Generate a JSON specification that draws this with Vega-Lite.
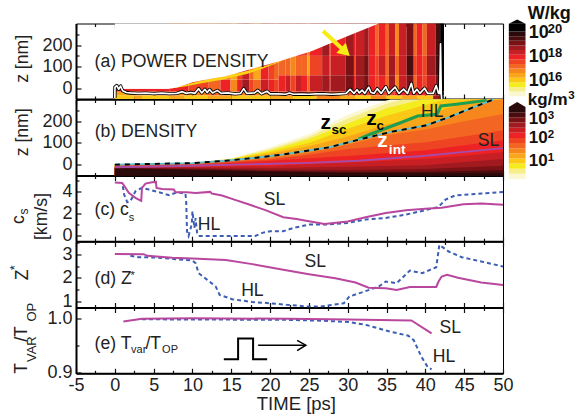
{
"$schema":"https://vega.github.io/schema/vega-lite/v6.json",
"padding":{"left":8,"top":3.5,"right":0,"bottom":0},
"background":"white",
"config":{"view":{"stroke":"#000","strokeWidth":1},"axis":{"grid":false,"labelFont":"Liberation Sans","labelFontSize":18,"labelColor":"#222","tickColor":"#111","tickWidth":1.2,"domainColor":"#000","domainWidth":2,"labelOverlap":false,"labelFlush":false,"zindex":1}},
"datasets":{
"heatA":[
{"t":0,"t2":2.5,"z":-50,"z2":-33,"c":3},{"t":2.5,"t2":3.5,"z":-50,"z2":-33,"c":4},{"t":3.5,"t2":5,"z":-50,"z2":-33,"c":3},{"t":5,"t2":7,"z":-50,"z2":-33,"c":3},{"t":7,"t2":9,"z":-50,"z2":-33,"c":4},{"t":9,"t2":12,"z":-50,"z2":-33,"c":3},{"t":12,"t2":15,"z":-50,"z2":-33,"c":4},{"t":15,"t2":17,"z":-50,"z2":-33,"c":3},{"t":17,"t2":20,"z":-50,"z2":-33,"c":3},{"t":20,"t2":23,"z":-50,"z2":-33,"c":4},{"t":23,"t2":26,"z":-50,"z2":-33,"c":3},{"t":26,"t2":29,"z":-50,"z2":-33,"c":5},{"t":29,"t2":31,"z":-50,"z2":-33,"c":4},{"t":31,"t2":33,"z":-50,"z2":-33,"c":3},{"t":33,"t2":35,"z":-50,"z2":-33,"c":5},{"t":35,"t2":37,"z":-50,"z2":-33,"c":3},{"t":37,"t2":39,"z":-50,"z2":-33,"c":4},{"t":39,"t2":41,"z":-50,"z2":-33,"c":3},{"t":41,"t2":42.4,"z":-50,"z2":-33,"c":10},
{"t":0,"t2":5,"z":-33,"z2":-15,"c":4},{"t":5,"t2":8,"z":-33,"z2":-15,"c":6},{"t":8,"t2":12,"z":-33,"z2":-15,"c":5},{"t":12,"t2":16,"z":-33,"z2":-15,"c":6},{"t":16,"t2":20,"z":-33,"z2":-15,"c":5},{"t":20,"t2":25,"z":-33,"z2":-15,"c":7},{"t":25,"t2":30,"z":-33,"z2":-15,"c":6},{"t":30,"t2":36,"z":-33,"z2":-15,"c":7},{"t":36,"t2":41.3,"z":-33,"z2":-15,"c":8},{"t":41.3,"t2":42.4,"z":-33,"z2":-15,"c":12},
{"t":0,"t2":7,"z":-15,"z2":-3,"c":8},
{"t":7,"t2":9.5,"z":-15,"z2":40,"c":8},{"t":9.5,"t2":12.1,"z":-15,"z2":40,"c":7},{"t":12.1,"t2":13.6,"z":-15,"z2":40,"c":6},{"t":13.6,"t2":14.9,"z":-15,"z2":40,"c":8},{"t":14.9,"t2":15.75,"z":-15,"z2":40,"c":5},{"t":15.75,"t2":16.4,"z":-15,"z2":40,"c":8},{"t":16.4,"t2":17.3,"z":-15,"z2":40,"c":10},{"t":17.3,"t2":17.9,"z":-15,"z2":40,"c":7},{"t":17.9,"t2":18.8,"z":-15,"z2":40,"c":6},{"t":18.8,"t2":19.8,"z":-15,"z2":40,"c":9},{"t":19.8,"t2":20.5,"z":-15,"z2":40,"c":8},{"t":20.5,"t2":21.1,"z":-15,"z2":40,"c":7},
{"t":7,"t2":9.5,"z":40,"z2":300,"c":6},{"t":9.5,"t2":12.1,"z":40,"z2":300,"c":5},{"t":12.1,"t2":13.6,"z":40,"z2":300,"c":5},{"t":13.6,"t2":14.9,"z":40,"z2":300,"c":6},{"t":14.9,"t2":15.75,"z":40,"z2":300,"c":4},{"t":15.75,"t2":16.4,"z":40,"z2":300,"c":7},{"t":16.4,"t2":17.3,"z":40,"z2":300,"c":9},{"t":17.3,"t2":17.9,"z":40,"z2":300,"c":6},{"t":17.9,"t2":18.8,"z":40,"z2":300,"c":4},{"t":18.8,"t2":19.8,"z":40,"z2":300,"c":8},{"t":19.8,"t2":20.5,"z":40,"z2":300,"c":7},{"t":20.5,"t2":21.1,"z":40,"z2":300,"c":6},
{"t":21.1,"t2":22,"z":-15,"z2":60,"c":8},{"t":21.1,"t2":22,"z":60,"z2":150,"c":6},{"t":21.1,"t2":22,"z":150,"z2":300,"c":8},
{"t":22,"t2":22.6,"z":-15,"z2":60,"c":9},{"t":22,"t2":22.6,"z":60,"z2":150,"c":6},{"t":22,"t2":22.6,"z":150,"z2":300,"c":8},
{"t":22.6,"t2":23.3,"z":-15,"z2":60,"c":7},{"t":22.6,"t2":23.3,"z":60,"z2":150,"c":5},{"t":22.6,"t2":23.3,"z":150,"z2":300,"c":7},
{"t":23.3,"t2":24.1,"z":-15,"z2":60,"c":9},{"t":23.3,"t2":24.1,"z":60,"z2":150,"c":6},{"t":23.3,"t2":24.1,"z":150,"z2":300,"c":8},
{"t":24.1,"t2":24.8,"z":-15,"z2":60,"c":8},{"t":24.1,"t2":24.8,"z":60,"z2":150,"c":6},{"t":24.1,"t2":24.8,"z":150,"z2":300,"c":7},
{"t":24.8,"t2":25.1,"z":-15,"z2":60,"c":6},{"t":24.8,"t2":25.1,"z":60,"z2":150,"c":4},{"t":24.8,"t2":25.1,"z":150,"z2":300,"c":5},
{"t":25.1,"t2":26.7,"z":-15,"z2":60,"c":9},{"t":25.1,"t2":26.7,"z":60,"z2":150,"c":7},{"t":25.1,"t2":26.7,"z":150,"z2":300,"c":8},
{"t":26.7,"t2":27.6,"z":-15,"z2":60,"c":10},{"t":26.7,"t2":27.6,"z":60,"z2":150,"c":9},{"t":26.7,"t2":27.6,"z":150,"z2":300,"c":10},
{"t":27.6,"t2":27.8,"z":-15,"z2":60,"c":8},{"t":27.6,"t2":27.8,"z":60,"z2":150,"c":7},{"t":27.6,"t2":27.8,"z":150,"z2":300,"c":7},
{"t":27.8,"t2":29.7,"z":-15,"z2":60,"c":10},{"t":27.8,"t2":29.7,"z":60,"z2":150,"c":9},{"t":27.8,"t2":29.7,"z":150,"z2":300,"c":8},
{"t":29.7,"t2":30.8,"z":-15,"z2":60,"c":11},{"t":29.7,"t2":30.8,"z":60,"z2":150,"c":11},{"t":29.7,"t2":30.8,"z":150,"z2":300,"c":10},
{"t":30.8,"t2":31,"z":-15,"z2":60,"c":8},{"t":30.8,"t2":31,"z":60,"z2":150,"c":7},{"t":30.8,"t2":31,"z":150,"z2":300,"c":8},
{"t":31,"t2":32.1,"z":-15,"z2":60,"c":10},{"t":31,"t2":32.1,"z":60,"z2":150,"c":10},{"t":31,"t2":32.1,"z":150,"z2":300,"c":9},
{"t":32.1,"t2":32.7,"z":-15,"z2":60,"c":11},{"t":32.1,"t2":32.7,"z":60,"z2":150,"c":11},{"t":32.1,"t2":32.7,"z":150,"z2":300,"c":10},
{"t":32.7,"t2":33.6,"z":-15,"z2":60,"c":8},{"t":32.7,"t2":33.6,"z":60,"z2":150,"c":8},{"t":32.7,"t2":33.6,"z":150,"z2":300,"c":8},
{"t":33.6,"t2":34,"z":-15,"z2":60,"c":7},{"t":33.6,"t2":34,"z":60,"z2":150,"c":7},{"t":33.6,"t2":34,"z":150,"z2":300,"c":6},
{"t":34,"t2":34.9,"z":-15,"z2":60,"c":8},{"t":34,"t2":34.9,"z":60,"z2":150,"c":9},{"t":34,"t2":34.9,"z":150,"z2":300,"c":8},
{"t":34.9,"t2":35.3,"z":-15,"z2":60,"c":6},{"t":34.9,"t2":35.3,"z":60,"z2":150,"c":6},{"t":34.9,"t2":35.3,"z":150,"z2":300,"c":6},
{"t":35.3,"t2":36.1,"z":-15,"z2":60,"c":10},{"t":35.3,"t2":36.1,"z":60,"z2":150,"c":10},{"t":35.3,"t2":36.1,"z":150,"z2":300,"c":9},
{"t":36.1,"t2":36.6,"z":-15,"z2":60,"c":5},{"t":36.1,"t2":36.6,"z":60,"z2":150,"c":6},{"t":36.1,"t2":36.6,"z":150,"z2":300,"c":5},
{"t":36.6,"t2":37.6,"z":-15,"z2":60,"c":9},{"t":36.6,"t2":37.6,"z":60,"z2":150,"c":9},{"t":36.6,"t2":37.6,"z":150,"z2":300,"c":9},
{"t":37.6,"t2":38.5,"z":-15,"z2":60,"c":11},{"t":37.6,"t2":38.5,"z":60,"z2":150,"c":12},{"t":37.6,"t2":38.5,"z":150,"z2":300,"c":11},
{"t":38.5,"t2":38.9,"z":-15,"z2":60,"c":6},{"t":38.5,"t2":38.9,"z":60,"z2":150,"c":7},{"t":38.5,"t2":38.9,"z":150,"z2":300,"c":6},
{"t":38.9,"t2":39.6,"z":-15,"z2":60,"c":8},{"t":38.9,"t2":39.6,"z":60,"z2":150,"c":8},{"t":38.9,"t2":39.6,"z":150,"z2":300,"c":8},
{"t":39.6,"t2":40.2,"z":-15,"z2":60,"c":7},{"t":39.6,"t2":40.2,"z":60,"z2":150,"c":7},{"t":39.6,"t2":40.2,"z":150,"z2":300,"c":6},
{"t":40.2,"t2":41.3,"z":-15,"z2":60,"c":9},{"t":40.2,"t2":41.3,"z":60,"z2":150,"c":10},{"t":40.2,"t2":41.3,"z":150,"z2":300,"c":9},
{"t":41.3,"t2":41.9,"z":-15,"z2":60,"c":11},{"t":41.3,"t2":41.9,"z":60,"z2":150,"c":12},{"t":41.3,"t2":41.9,"z":150,"z2":300,"c":12},
{"t":41.9,"t2":42.4,"z":-15,"z2":300,"c":14},
{"t":50.75,"t2":52.9,"z":-37,"z2":-15.6,"c":0},{"t":50.75,"t2":52.9,"z":-15.6,"z2":5.8,"c":1},{"t":50.75,"t2":52.9,"z":5.8,"z2":27.2,"c":2},{"t":50.75,"t2":52.9,"z":27.2,"z2":48.6,"c":3},{"t":50.75,"t2":52.9,"z":48.6,"z2":70,"c":4},{"t":50.75,"t2":52.9,"z":70,"z2":91.4,"c":5},{"t":50.75,"t2":52.9,"z":91.4,"z2":112.8,"c":6},{"t":50.75,"t2":52.9,"z":112.8,"z2":134.2,"c":7},{"t":50.75,"t2":52.9,"z":134.2,"z2":155.6,"c":8},{"t":50.75,"t2":52.9,"z":155.6,"z2":177,"c":9},{"t":50.75,"t2":52.9,"z":177,"z2":198.4,"c":10},{"t":50.75,"t2":52.9,"z":198.4,"z2":219.8,"c":11},{"t":50.75,"t2":52.9,"z":219.8,"z2":241.2,"c":12},{"t":50.75,"t2":52.9,"z":241.2,"z2":262.6,"c":13},{"t":50.75,"t2":52.9,"z":262.6,"z2":299,"c":14}],
"barB":[
{"t":50.75,"t2":52.9,"z":-66,"z2":-42.4,"c":0},{"t":50.75,"t2":52.9,"z":-42.4,"z2":-18.7,"c":1},{"t":50.75,"t2":52.9,"z":-18.7,"z2":4.9,"c":2},{"t":50.75,"t2":52.9,"z":4.9,"z2":28.6,"c":3},{"t":50.75,"t2":52.9,"z":28.6,"z2":52.2,"c":4},{"t":50.75,"t2":52.9,"z":52.2,"z2":75.9,"c":5},{"t":50.75,"t2":52.9,"z":75.9,"z2":99.5,"c":6},{"t":50.75,"t2":52.9,"z":99.5,"z2":123.1,"c":7},{"t":50.75,"t2":52.9,"z":123.1,"z2":146.8,"c":8},{"t":50.75,"t2":52.9,"z":146.8,"z2":170.4,"c":9},{"t":50.75,"t2":52.9,"z":170.4,"z2":194.1,"c":10},{"t":50.75,"t2":52.9,"z":194.1,"z2":217.7,"c":11},{"t":50.75,"t2":52.9,"z":217.7,"z2":241.4,"c":12},{"t":50.75,"t2":52.9,"z":241.4,"z2":265,"c":13}],
"bands":[
{"c":0,"t":0,"z":0},{"c":0,"t":10,"z":7},{"c":0,"t":15,"z":30},{"c":0,"t":20,"z":80},{"c":0,"t":25,"z":140},{"c":0,"t":30,"z":230},{"c":0,"t":35,"z":295},{"c":0,"t":35.5,"z":300},{"c":0,"t":50,"z":300},
{"c":1,"t":0,"z":0},{"c":1,"t":10,"z":7},{"c":1,"t":15,"z":28},{"c":1,"t":20,"z":72},{"c":1,"t":25,"z":128},{"c":1,"t":30,"z":212},{"c":1,"t":35,"z":280},{"c":1,"t":37,"z":300},{"c":1,"t":50,"z":300},
{"c":2,"t":0,"z":0},{"c":2,"t":10,"z":7},{"c":2,"t":15,"z":26},{"c":2,"t":20,"z":65},{"c":2,"t":25,"z":118},{"c":2,"t":30,"z":190},{"c":2,"t":35,"z":260},{"c":2,"t":39.5,"z":300},{"c":2,"t":50,"z":300},
{"c":3,"t":0,"z":0},{"c":3,"t":10,"z":7},{"c":3,"t":15,"z":24},{"c":3,"t":20,"z":58},{"c":3,"t":25,"z":100},{"c":3,"t":30,"z":165},{"c":3,"t":35,"z":225},{"c":3,"t":40,"z":275},{"c":3,"t":42.5,"z":300},{"c":3,"t":50,"z":300},
{"c":4,"t":0,"z":0},{"c":4,"t":10,"z":7},{"c":4,"t":15,"z":22},{"c":4,"t":20,"z":50},{"c":4,"t":25,"z":85},{"c":4,"t":30,"z":130},{"c":4,"t":35,"z":185},{"c":4,"t":40,"z":225},{"c":4,"t":45,"z":285},{"c":4,"t":46,"z":300},{"c":4,"t":50,"z":300},
{"c":5,"t":0,"z":0},{"c":5,"t":10,"z":7},{"c":5,"t":14.3,"z":18},{"c":5,"t":18.5,"z":33},{"c":5,"t":21.5,"z":46},{"c":5,"t":25,"z":65},{"c":5,"t":27.6,"z":80},{"c":5,"t":31.4,"z":115},{"c":5,"t":35.7,"z":152},{"c":5,"t":40,"z":180},{"c":5,"t":43,"z":218},{"c":5,"t":45.6,"z":256},{"c":5,"t":48.4,"z":295},{"c":5,"t":50,"z":300},
{"c":6,"t":0,"z":-2},{"c":6,"t":10,"z":4},{"c":6,"t":20,"z":30},{"c":6,"t":25,"z":55},{"c":6,"t":30,"z":92},{"c":6,"t":35,"z":135},{"c":6,"t":40,"z":162},{"c":6,"t":45,"z":200},{"c":6,"t":50,"z":233},
{"c":7,"t":0,"z":-5},{"c":7,"t":10,"z":2},{"c":7,"t":20,"z":24},{"c":7,"t":25,"z":45},{"c":7,"t":30,"z":72},{"c":7,"t":35,"z":88},{"c":7,"t":40,"z":103},{"c":7,"t":45,"z":130},{"c":7,"t":50,"z":158},
{"c":8,"t":0,"z":-8},{"c":8,"t":10,"z":-3},{"c":8,"t":20,"z":18},{"c":8,"t":25,"z":30},{"c":8,"t":30,"z":40},{"c":8,"t":40,"z":66},{"c":8,"t":50,"z":112},
{"c":9,"t":0,"z":-12},{"c":9,"t":10,"z":-10},{"c":9,"t":20,"z":-6},{"c":9,"t":25,"z":3},{"c":9,"t":30,"z":10},{"c":9,"t":40,"z":26},{"c":9,"t":50,"z":57},
{"c":10,"t":0,"z":-13},{"c":10,"t":10,"z":-14},{"c":10,"t":20,"z":-15},{"c":10,"t":30,"z":-10},{"c":10,"t":40,"z":-3},{"c":10,"t":50,"z":26},
{"c":11,"t":0,"z":-14},{"c":11,"t":10,"z":-18},{"c":11,"t":20,"z":-24},{"c":11,"t":30,"z":-25},{"c":11,"t":40,"z":-20},{"c":11,"t":50,"z":-5},
{"c":12,"t":0,"z":-16},{"c":12,"t":10,"z":-22},{"c":12,"t":20,"z":-30},{"c":12,"t":30,"z":-34},{"c":12,"t":40,"z":-33},{"c":12,"t":50,"z":-26},
{"c":13,"t":0,"z":-18},{"c":13,"t":10,"z":-25},{"c":13,"t":20,"z":-32},{"c":13,"t":30,"z":-38},{"c":13,"t":50,"z":-40}],
"zc":[{"t":0,"z":0},{"t":10,"z":7},{"t":14.3,"z":18},{"t":18.5,"z":33},{"t":21.5,"z":46},{"t":25,"z":65},{"t":27.6,"z":80},{"t":31.4,"z":115},{"t":35.7,"z":152},{"t":40,"z":180},{"t":43,"z":218},{"t":45.6,"z":256},{"t":48.4,"z":295},{"t":48.8,"z":300}],
"power":[{"t":0,"z":-45},{"t":0.02,"z":5},{"t":0.25,"z":12},{"t":0.5,"z":-5},{"t":0.75,"z":10},{"t":1,"z":-12},{"t":1.5,"z":-20},{"t":2,"z":-22},{"t":3,"z":-24},{"t":4,"z":-23},{"t":5,"z":-25},{"t":6,"z":-23},{"t":7,"z":-25},{"t":8,"z":-24},{"t":8.7,"z":-16},{"t":9.2,"z":-24},{"t":9.8,"z":-20},{"t":10.3,"z":-24},{"t":10.8,"z":-2},{"t":11.2,"z":-22},{"t":11.6,"z":-5},{"t":11.9,"z":-20},{"t":12.2,"z":-6},{"t":12.6,"z":-22},{"t":13.2,"z":-10},{"t":13.7,"z":-24},{"t":14.5,"z":-22},{"t":15.5,"z":-26},{"t":16.2,"z":-24},{"t":16.6,"z":-2},{"t":17,"z":-24},{"t":18,"z":-22},{"t":18.4,"z":-10},{"t":18.9,"z":-26},{"t":19.6,"z":-14},{"t":20,"z":-26},{"t":21,"z":-26},{"t":22,"z":-28},{"t":22.5,"z":-22},{"t":23,"z":-28},{"t":24,"z":-27},{"t":25,"z":-28},{"t":26,"z":-26},{"t":27,"z":-26},{"t":28,"z":-28},{"t":29,"z":-26},{"t":29.8,"z":-24},{"t":30.3,"z":-5},{"t":30.8,"z":-24},{"t":31.2,"z":-7},{"t":31.5,"z":-22},{"t":31.85,"z":-9},{"t":32.2,"z":-24},{"t":32.7,"z":5},{"t":33,"z":-20},{"t":33.4,"z":-24},{"t":33.8,"z":-2},{"t":34.3,"z":-24},{"t":34.9,"z":7},{"t":35.3,"z":-24},{"t":36.1,"z":5},{"t":36.6,"z":-24},{"t":37.2,"z":-4},{"t":37.7,"z":-24},{"t":38.2,"z":23},{"t":38.5,"z":-24},{"t":38.9,"z":-5},{"t":39.3,"z":-24},{"t":39.9,"z":0},{"t":40.3,"z":-24},{"t":41,"z":-24},{"t":41.4,"z":12},{"t":41.7,"z":-24},{"t":41.85,"z":-24},{"t":41.95,"z":206},{"t":42.05,"z":-30},{"t":42.1,"z":-50}],
"cSL":[{"t":0,"z":4.81},{"t":0.95,"z":4.78},{"t":1.16,"z":4.57},{"t":1.8,"z":3.88},{"t":2.66,"z":3.43},{"t":3.4,"z":3.16},{"t":3.5,"z":4.33},{"t":3.95,"z":4.72},{"t":4.8,"z":4.84},{"t":5.3,"z":4.87},{"t":5.37,"z":4.33},{"t":6.1,"z":4.24},{"t":7.6,"z":4.18},{"t":7.8,"z":3.93},{"t":9.3,"z":3.93},{"t":10.4,"z":3.88},{"t":12.3,"z":3.97},{"t":12.5,"z":3.82},{"t":13.8,"z":3.64},{"t":15.1,"z":3.34},{"t":17.3,"z":2.83},{"t":19.4,"z":2.32},{"t":21.7,"z":1.68},{"t":23.4,"z":1.53},{"t":25,"z":1.32},{"t":27,"z":1.08},{"t":30,"z":1.29},{"t":32.3,"z":1.68},{"t":34.9,"z":2.07},{"t":37.5,"z":2.32},{"t":40,"z":2.44},{"t":42.1,"z":2.53},{"t":44.9,"z":2.86},{"t":47.2,"z":2.92},{"t":50,"z":2.82}],
"cHL":[{"t":1.03,"z":4.48},{"t":1.2,"z":3.73},{"t":1.6,"z":3.04},{"t":2,"z":3.13},{"t":2.66,"z":4.03},{"t":3.5,"z":4.33},{"t":4.4,"z":4.18},{"t":5.7,"z":3.94},{"t":7,"z":3.67},{"t":8,"z":3.94},{"t":9.1,"z":3.82},{"t":9.2,"z":2.98},{"t":9.3,"z":0.42},{"t":9.5,"z":0},{"t":9.9,"z":1.02},{"t":10,"z":2.22},{"t":10.25,"z":0.72},{"t":10.4,"z":1.6},{"t":10.6,"z":0.27},{"t":10.8,"z":0},{"t":15.1,"z":0},{"t":18.1,"z":0},{"t":19,"z":0.27},{"t":20,"z":0.42},{"t":21.7,"z":0.42},{"t":23,"z":0.72},{"t":25,"z":1.02},{"t":27,"z":1.02},{"t":30,"z":1.17},{"t":32.3,"z":1.47},{"t":34.9,"z":1.62},{"t":37.5,"z":1.92},{"t":40,"z":2.32},{"t":41.7,"z":2.62},{"t":42.6,"z":3.28},{"t":43.8,"z":3.64},{"t":47.2,"z":3.82},{"t":50,"z":3.97}],
"dSL":[{"t":0,"z":3.01},{"t":3.7,"z":3},{"t":4.2,"z":2.93},{"t":7.4,"z":2.85},{"t":10,"z":2.82},{"t":14.3,"z":2.75},{"t":17.7,"z":2.58},{"t":21.7,"z":2.34},{"t":25,"z":2.16},{"t":28.4,"z":1.99},{"t":31,"z":1.81},{"t":32.7,"z":1.59},{"t":34.9,"z":1.57},{"t":36.3,"z":1.5},{"t":38,"z":1.62},{"t":41.4,"z":1.62},{"t":41.7,"z":1.85},{"t":42.1,"z":2.06},{"t":42.8,"z":2.13},{"t":44.2,"z":2.01},{"t":47.2,"z":1.81},{"t":50,"z":1.7}],
"dHL":[{"t":2,"z":2.93},{"t":3.1,"z":2.87},{"t":5.2,"z":2.86},{"t":7.8,"z":2.79},{"t":10,"z":2.73},{"t":10.4,"z":2.62},{"t":10.8,"z":2.2},{"t":11.9,"z":1.92},{"t":13,"z":1.64},{"t":13.5,"z":1.29},{"t":15.1,"z":1.11},{"t":17.7,"z":0.99},{"t":20,"z":0.94},{"t":22.2,"z":0.87},{"t":25,"z":0.8},{"t":26.5,"z":0.8},{"t":29.5,"z":0.94},{"t":30.2,"z":1.22},{"t":32.6,"z":1.48},{"t":34,"z":1.64},{"t":34.9,"z":1.85},{"t":36.3,"z":1.78},{"t":38,"z":2.31},{"t":39.6,"z":2.2},{"t":41.4,"z":2.45},{"t":41.8,"z":3.39},{"t":43,"z":3.11},{"t":44.7,"z":2.87},{"t":47.2,"z":2.69},{"t":50,"z":2.48}],
"eSL":[{"t":1.1,"z":0.9938},{"t":3.5,"z":0.9988},{"t":10,"z":1},{"t":22.4,"z":0.9988},{"t":30,"z":0.9975},{"t":38.2,"z":0.9957},{"t":40.8,"z":0.972}],
"eHL":[{"t":3.5,"z":0.998},{"t":22,"z":0.997},{"t":26,"z":0.9957},{"t":30,"z":0.9932},{"t":32.4,"z":0.9876},{"t":35.3,"z":0.9758},{"t":37.8,"z":0.9677},{"t":38.5,"z":0.9596},{"t":39.5,"z":0.9286},{"t":40.3,"z":0.91},{"t":40.8,"z":0.9056}]
},
"vconcat":[
{"width":427,"height":75.5,
 "encoding":{"x":{"field":"t","type":"quantitative","scale":{"domain":[-5,50],"nice":false,"zero":false},"axis":null},"y":{"field":"z","type":"quantitative","stack":false,"scale":{"domain":[-50,300],"nice":false,"zero":false},"axis":{"title":null,"values":[-50,0,50,100,150,200,250],"labelExpr":"datum.value%100===0?datum.label:''","labelPadding":9,"tickSize":{"condition":{"test":"datum.value%100===0","value":-5},"value":-3}}}},
 "resolve":{"axis":{"x":"independent"}},
 "layer":[
 {"data":{"name":"heatA"},"mark":{"type":"rect"},"encoding":{"x2":{"field":"t2"},"y2":{"field":"z2"},"color":{"field":"c","type":"ordinal","legend":null,"scale":{"domain":[0,1,2,3,4,5,6,7,8,9,10,11,12,13,14],"range":["#fbf7d0","#f5ee8b","#f4ec1c","#fbc815","#f9a61b","#f7861d","#f26522","#ef4423","#ed2224","#c81f24","#a01a1f","#7a1215","#4a0d0f","#2a0a0a","#000000"]}}}},
 {"data":{"values":[{"t":7,"z":-3,"z2":-3},{"t":9,"z":15,"z2":8},{"t":11,"z":34,"z2":22},{"t":14,"z":54,"z2":40},{"t":17,"z":80,"z2":66},{"t":19,"z":100,"z2":90},{"t":21,"z":122,"z2":118},{"t":22,"z":134,"z2":134}]},"mark":{"type":"area","color":"#fbd015"},"encoding":{"y2":{"field":"z2"}}},
 {"data":{"values":[{"t":0,"z":-3},{"t":7,"z":-3},{"t":8,"z":3},{"t":9,"z":15},{"t":10,"z":28},{"t":12,"z":41},{"t":14.3,"z":56},{"t":17.7,"z":90},{"t":21.1,"z":124},{"t":25.4,"z":172},{"t":29.7,"z":237},{"t":33.6,"z":294},{"t":34,"z":300},{"t":42.4,"z":300}]},"mark":{"type":"area","color":"white"},"encoding":{"y2":{"datum":300}}},
 {"data":{"name":"power"},"mark":{"type":"line","color":"#000","strokeWidth":3.4,"strokeJoin":"round"}},
 {"data":{"name":"power"},"mark":{"type":"line","color":"#fff","strokeWidth":1.7,"strokeJoin":"round"}},
 {"data":{"values":[{"t":26.83,"z":265},{"t":29.75,"z":166.5}]},"mark":{"type":"line","color":"#f7ec13","strokeWidth":4}},
 {"data":{"values":[{"t":29.7,"z":168}]},"mark":{"type":"point","shape":"triangle-up","filled":true,"opacity":1,"color":"#f7ec13","size":190,"angle":133}},
 {"data":{"values":[{"t":50.75,"z":299},{"t":51.825,"z":319},{"t":52.9,"z":299}]},"mark":{"type":"area","color":"#000"},"encoding":{"y2":{"datum":299}}},
 {"data":{"values":[{"t":-2.61,"z":99,"s":"(a) POWER DENSITY"}]},"mark":{"type":"text","align":"left","baseline":"alphabetic","font":"Liberation Sans","fontSize":17.6,"color":"#222"},"encoding":{"text":{"field":"s"}}},
 {"data":{"values":[{"t":-11.2,"z":136,"s":"z [nm]"}]},"mark":{"type":"text","align":"center","baseline":"alphabetic","angle":270,"font":"Liberation Sans","fontSize":17.6,"color":"#222"},"encoding":{"text":{"field":"s"}}},
 {"data":{"values":[{"t":53.2,"z":322,"s":"W/kg"},{"t":53.32,"z":233,"s":"10"},{"t":53.32,"z":121,"s":"10"},{"t":53.32,"z":9,"s":"10"}]},"mark":{"type":"text","align":"left","baseline":"alphabetic","font":"Liberation Sans","fontWeight":"bold","fontSize":18,"color":"#111"},"encoding":{"text":{"field":"s"}}},
 {"data":{"values":[{"t":55.77,"z":257,"s":"20"},{"t":55.77,"z":146,"s":"18"},{"t":55.77,"z":34,"s":"16"}]},"mark":{"type":"text","align":"left","baseline":"alphabetic","font":"Liberation Sans","fontWeight":"bold","fontSize":13,"color":"#111"},"encoding":{"text":{"field":"s"}}},
 {"data":{"values":[{"t":0,"z":0}]},"mark":{"type":"point","opacity":0},"encoding":{"x":{"field":"t","type":"quantitative","scale":{"domain":[-5,50],"nice":false,"zero":false},"axis":{"orient":"bottom","title":null,"labels":false,"values":[-5,-2.5,0,2.5,5,7.5,10,12.5,15,17.5,20,22.5,25,27.5,30,32.5,35,37.5,40,42.5,45,47.5,50],"tickSize":{"condition":{"test":"datum.value%5===0","value":-5},"value":-3}}}}},
 {"data":{"values":[{"t":0,"z":0}]},"mark":{"type":"point","opacity":0},"encoding":{"x":{"field":"t","type":"quantitative","scale":{"domain":[-5,50],"nice":false,"zero":false},"axis":{"orient":"top","title":null,"labels":false,"domain":false,"values":[-5,-2.5,0,2.5,5,7.5,10,12.5,15,17.5,20,22.5,25,27.5,30,32.5,35,37.5,40,42.5,45,47.5,50],"tickSize":{"condition":{"test":"datum.value%5===0","value":-5},"value":-3}}}}}
 ]},
{"width":427,"height":76,
 "encoding":{"x":{"field":"t","type":"quantitative","scale":{"domain":[-5,50],"nice":false,"zero":false},"axis":null},"y":{"field":"z","type":"quantitative","stack":false,"scale":{"domain":[-50,300],"nice":false,"zero":false},"axis":{"title":null,"values":[-50,0,50,100,150,200,250],"labelExpr":"datum.value%100===0?datum.label:''","labelPadding":9,"tickSize":{"condition":{"test":"datum.value%100===0","value":-5},"value":-3}}}},
 "resolve":{"axis":{"x":"independent"}},
 "layer":[
 {"data":{"name":"bands"},"mark":{"type":"area"},"encoding":{"y2":{"datum":-50},"color":{"field":"c","type":"ordinal","legend":null,"scale":{"domain":[0,1,2,3,4,5,6,7,8,9,10,11,12,13,14],"range":["#fbf7d0","#f5ee8b","#f4ec1c","#fbc815","#f9a61b","#f7861d","#f26522","#ef4423","#ed2224","#c81f24","#a01a1f","#7a1215","#4a0d0f","#2a0a0a","#000000"]}}}},
 {"data":{"name":"barB"},"mark":{"type":"rect"},"encoding":{"x2":{"field":"t2"},"y2":{"field":"z2"},"color":{"field":"c","type":"ordinal","legend":null,"scale":{"domain":[0,1,2,3,4,5,6,7,8,9,10,11,12,13,14],"range":["#fbf7d0","#f5ee8b","#f4ec1c","#fbc815","#f9a61b","#f7861d","#f26522","#ef4423","#ed2224","#c81f24","#a01a1f","#7a1215","#4a0d0f","#2a0a0a","#000000"]}}}},
 {"data":{"values":[{"t":50.75,"z":265},{"t":51.825,"z":288.5},{"t":52.9,"z":265}]},"mark":{"type":"area","color":"#2a0a0a"},"encoding":{"y2":{"datum":265}}},
 {"data":{"values":[{"t":0,"z":-12},{"t":10,"z":-5},{"t":25,"z":8},{"t":31.4,"z":18},{"t":40,"z":41},{"t":50,"z":76}]},"mark":{"type":"line","color":"#a84aa8","strokeWidth":1.8}},
 {"data":{"values":[{"t":31.4,"z":117},{"t":32.9,"z":140},{"t":36.8,"z":193},{"t":39,"z":224},{"t":41.5,"z":232},{"t":42,"z":270},{"t":44,"z":278},{"t":47.9,"z":296}]},"mark":{"type":"line","color":"#1f9e50","strokeWidth":3}},
 {"data":{"name":"zc"},"mark":{"type":"line","color":"#5cc0d2","strokeWidth":1.9}},
 {"data":{"name":"zc"},"mark":{"type":"line","color":"#000","strokeWidth":1.9,"strokeDash":[5,5]}},
 {"data":{"values":[{"t":-2.6,"z":126,"s":"(b) DENSITY"},{"t":39.45,"z":218,"s":"HL"},{"t":46.75,"z":84,"s":"SL"}]},"mark":{"type":"text","align":"left","baseline":"alphabetic","font":"Liberation Sans","fontSize":17.6,"color":"#222"},"encoding":{"text":{"field":"s"}}},
 {"data":{"values":[{"t":-11.2,"z":149,"s":"z [nm]"}]},"mark":{"type":"text","align":"center","baseline":"alphabetic","angle":270,"font":"Liberation Sans","fontSize":17.6,"color":"#222"},"encoding":{"text":{"field":"s"}}},
 {"data":{"values":[{"t":26.5,"z":164,"s":"z"},{"t":32.37,"z":184,"s":"z"}]},"mark":{"type":"text","align":"left","baseline":"alphabetic","font":"Liberation Sans","fontWeight":"bold","fontSize":21,"color":"#000"},"encoding":{"text":{"field":"s"}}},
 {"data":{"values":[{"t":27.9,"z":141,"s":"sc"},{"t":33.7,"z":159.5,"s":"c"}]},"mark":{"type":"text","align":"left","baseline":"alphabetic","font":"Liberation Sans","fontWeight":"bold","fontSize":13.5,"color":"#000"},"encoding":{"text":{"field":"s"}}},
 {"data":{"values":[{"t":33.8,"z":80,"s":"z"}]},"mark":{"type":"text","align":"left","baseline":"alphabetic","font":"Liberation Sans","fontWeight":"bold","fontSize":21,"color":"#fff"},"encoding":{"text":{"field":"s"}}},
 {"data":{"values":[{"t":35.3,"z":49,"s":"int"}]},"mark":{"type":"text","align":"left","baseline":"alphabetic","font":"Liberation Sans","fontWeight":"bold","fontSize":13.7,"color":"#fff"},"encoding":{"text":{"field":"s"}}},
 {"data":{"values":[{"t":53.2,"z":275,"s":"kg/m"},{"t":53.32,"z":186,"s":"10"},{"t":53.32,"z":98,"s":"10"},{"t":53.32,"z":-8,"s":"10"}]},"mark":{"type":"text","align":"left","baseline":"alphabetic","font":"Liberation Sans","fontWeight":"bold","fontSize":17,"color":"#111"},"encoding":{"text":{"field":"s"}}},
 {"data":{"values":[{"t":58.4,"z":301,"s":"3"},{"t":55.77,"z":209,"s":"3"},{"t":55.77,"z":121,"s":"2"},{"t":55.77,"z":15,"s":"1"}]},"mark":{"type":"text","align":"left","baseline":"alphabetic","font":"Liberation Sans","fontWeight":"bold","fontSize":11.5,"color":"#111"},"encoding":{"text":{"field":"s"}}},
 {"data":{"values":[{"t":0,"z":0}]},"mark":{"type":"point","opacity":0},"encoding":{"x":{"field":"t","type":"quantitative","scale":{"domain":[-5,50],"nice":false,"zero":false},"axis":{"orient":"bottom","title":null,"labels":false,"values":[-5,-2.5,0,2.5,5,7.5,10,12.5,15,17.5,20,22.5,25,27.5,30,32.5,35,37.5,40,42.5,45,47.5,50],"tickSize":{"condition":{"test":"datum.value%5===0","value":-5},"value":-3}}}}},
 {"data":{"values":[{"t":0,"z":0}]},"mark":{"type":"point","opacity":0},"encoding":{"x":{"field":"t","type":"quantitative","scale":{"domain":[-5,50],"nice":false,"zero":false},"axis":{"orient":"top","title":null,"labels":false,"domain":false,"values":[-5,-2.5,0,2.5,5,7.5,10,12.5,15,17.5,20,22.5,25,27.5,30,32.5,35,37.5,40,42.5,45,47.5,50],"tickSize":{"condition":{"test":"datum.value%5===0","value":-5},"value":-3}}}}}
 ]},
{"width":427,"height":65.7,
 "encoding":{"x":{"field":"t","type":"quantitative","scale":{"domain":[-5,50],"nice":false,"zero":false},"axis":null},"y":{"field":"z","type":"quantitative","stack":false,"scale":{"domain":[-0.48,5.45],"nice":false,"zero":false},"axis":{"title":null,"values":[0,1,2,3,4,5],"labelExpr":"datum.value%2===0?datum.label:''","labelPadding":9,"tickSize":{"condition":{"test":"datum.value%2===0","value":-5},"value":-3}}}},
 "resolve":{"axis":{"x":"independent"}},
 "layer":[
 {"data":{"name":"cHL"},"mark":{"type":"line","color":"#3c5fb4","strokeWidth":2,"strokeDash":[4,3]}},
 {"data":{"name":"cSL"},"mark":{"type":"line","color":"#b9479e","strokeWidth":2}},
 {"data":{"values":[{"t":-2.61,"z":1.86,"s":"(c) c"},{"t":10.69,"z":0.505,"s":"HL"},{"t":19.19,"z":2.76,"s":"SL"}]},"mark":{"type":"text","align":"left","baseline":"alphabetic","font":"Liberation Sans","fontSize":17.6,"color":"#222"},"encoding":{"text":{"field":"s"}}},
 {"data":{"values":[{"t":1.8,"z":1.32,"s":"s"}]},"mark":{"type":"text","align":"left","baseline":"alphabetic","font":"Liberation Sans","fontSize":11,"color":"#222"},"encoding":{"text":{"field":"s"}}},
 {"data":{"values":[{"t":-8.69,"z":1.74,"s":"[km/s]"},{"t":-11.72,"z":1.47,"s":"c"}]},"mark":{"type":"text","align":"center","baseline":"alphabetic","angle":270,"font":"Liberation Sans","fontSize":17.6,"color":"#222"},"encoding":{"text":{"field":"s"}}},
 {"data":{"values":[{"t":-11.2,"z":2.19,"s":"s"}]},"mark":{"type":"text","align":"center","baseline":"alphabetic","angle":270,"font":"Liberation Sans","fontSize":12,"color":"#222"},"encoding":{"text":{"field":"s"}}},
 {"data":{"values":[{"t":0,"z":0}]},"mark":{"type":"point","opacity":0},"encoding":{"x":{"field":"t","type":"quantitative","scale":{"domain":[-5,50],"nice":false,"zero":false},"axis":{"orient":"bottom","title":null,"labels":false,"values":[-5,-2.5,0,2.5,5,7.5,10,12.5,15,17.5,20,22.5,25,27.5,30,32.5,35,37.5,40,42.5,45,47.5,50],"tickSize":{"condition":{"test":"datum.value%5===0","value":-5},"value":-3}}}}},
 {"data":{"values":[{"t":0,"z":0}]},"mark":{"type":"point","opacity":0},"encoding":{"x":{"field":"t","type":"quantitative","scale":{"domain":[-5,50],"nice":false,"zero":false},"axis":{"orient":"top","title":null,"labels":false,"domain":false,"values":[-5,-2.5,0,2.5,5,7.5,10,12.5,15,17.5,20,22.5,25,27.5,30,32.5,35,37.5,40,42.5,45,47.5,50],"tickSize":{"condition":{"test":"datum.value%5===0","value":-5},"value":-3}}}}}
 ]},
{"width":427,"height":66,
 "encoding":{"x":{"field":"t","type":"quantitative","scale":{"domain":[-5,50],"nice":false,"zero":false},"axis":null},"y":{"field":"z","type":"quantitative","stack":false,"scale":{"domain":[0.76,3.53],"nice":false,"zero":false},"axis":{"title":null,"values":[1,1.5,2,2.5,3,3.5],"labelExpr":"datum.value%1===0?''+datum.value:''","labelPadding":9,"tickSize":{"condition":{"test":"datum.value%1===0","value":-5},"value":-3}}}},
 "resolve":{"axis":{"x":"independent"}},
 "layer":[
 {"data":{"name":"dHL"},"mark":{"type":"line","color":"#3c5fb4","strokeWidth":2,"strokeDash":[4,3]}},
 {"data":{"name":"dSL"},"mark":{"type":"line","color":"#b9479e","strokeWidth":2}},
 {"data":{"values":[{"t":-2.61,"z":1.74,"s":"(d) Z"},{"t":16.27,"z":1.26,"s":"HL"},{"t":24.43,"z":2.44,"s":"SL"}]},"mark":{"type":"text","align":"left","baseline":"alphabetic","font":"Liberation Sans","fontSize":17.6,"color":"#222"},"encoding":{"text":{"field":"s"}}},
 {"data":{"values":[{"t":2.02,"z":1.96,"s":"*"}]},"mark":{"type":"text","align":"left","baseline":"alphabetic","font":"Liberation Sans","fontSize":11,"color":"#222"},"encoding":{"text":{"field":"s"}}},
 {"data":{"values":[{"t":-11.2,"z":2.13,"s":"Z"}]},"mark":{"type":"text","align":"center","baseline":"alphabetic","angle":270,"font":"Liberation Sans","fontSize":17.6,"color":"#222"},"encoding":{"text":{"field":"s"}}},
 {"data":{"values":[{"t":-12.36,"z":2.43,"s":"*"}]},"mark":{"type":"text","align":"center","baseline":"alphabetic","angle":270,"font":"Liberation Sans","fontSize":13,"color":"#222"},"encoding":{"text":{"field":"s"}}},
 {"data":{"values":[{"t":0,"z":1}]},"mark":{"type":"point","opacity":0},"encoding":{"x":{"field":"t","type":"quantitative","scale":{"domain":[-5,50],"nice":false,"zero":false},"axis":{"orient":"bottom","title":null,"labels":false,"values":[-5,-2.5,0,2.5,5,7.5,10,12.5,15,17.5,20,22.5,25,27.5,30,32.5,35,37.5,40,42.5,45,47.5,50],"tickSize":{"condition":{"test":"datum.value%5===0","value":-5},"value":-3}}}}},
 {"data":{"values":[{"t":0,"z":1}]},"mark":{"type":"point","opacity":0},"encoding":{"x":{"field":"t","type":"quantitative","scale":{"domain":[-5,50],"nice":false,"zero":false},"axis":{"orient":"top","title":null,"labels":false,"domain":false,"values":[-5,-2.5,0,2.5,5,7.5,10,12.5,15,17.5,20,22.5,25,27.5,30,32.5,35,37.5,40,42.5,45,47.5,50],"tickSize":{"condition":{"test":"datum.value%5===0","value":-5},"value":-3}}}}}
 ]},
{"width":427,"height":65.8,
 "encoding":{"x":{"field":"t","type":"quantitative","scale":{"domain":[-5,50],"nice":false,"zero":false},"axis":null},"y":{"field":"z","type":"quantitative","stack":false,"scale":{"domain":[0.8985,1.0197],"nice":false,"zero":false},"axis":{"title":null,"values":[0.9,0.95,1],"labelExpr":"abs(datum.value-0.95)<0.01?'':format(datum.value,'.1f')","labelPadding":9,"tickSize":{"condition":{"test":"abs(datum.value-0.95)>0.01","value":-5},"value":-3}}}},
 "resolve":{"axis":{"x":"independent"}},
 "layer":[
 {"data":{"name":"eHL"},"mark":{"type":"line","color":"#3c5fb4","strokeWidth":2,"strokeDash":[4,3]}},
 {"data":{"name":"eSL"},"mark":{"type":"line","color":"#b9479e","strokeWidth":2}},
 {"data":{"values":[{"t":14.04,"z":0.9242},{"t":15.88,"z":0.9242},{"t":15.88,"z":0.9628},{"t":17.81,"z":0.9628},{"t":17.81,"z":0.9242},{"t":19.62,"z":0.9242}]},"mark":{"type":"line","color":"#000","strokeWidth":2}},
 {"data":{"values":[{"t":18.46,"z":0.9503},{"t":24.6,"z":0.9503}]},"mark":{"type":"line","color":"#000","strokeWidth":1.5}},
 {"data":{"values":[{"t":23.48,"z":0.959},{"t":24.6,"z":0.9503},{"t":23.48,"z":0.9404}]},"mark":{"type":"line","color":"#000","strokeWidth":1.5,"order":false}},
 {"data":{"values":[{"t":-2.61,"z":0.9428,"s":"(e) T"},{"t":3.95,"z":0.9428,"s":"/T"},{"t":41.82,"z":0.9732,"s":"SL"},{"t":40.96,"z":0.9186,"s":"HL"}]},"mark":{"type":"text","align":"left","baseline":"alphabetic","font":"Liberation Sans","fontSize":17.6,"color":"#222"},"encoding":{"text":{"field":"s"}}},
 {"data":{"values":[{"t":2.1,"z":0.9359,"s":"var"},{"t":6.09,"z":0.9359,"s":"OP"}]},"mark":{"type":"text","align":"left","baseline":"alphabetic","font":"Liberation Sans","fontSize":11,"color":"#222"},"encoding":{"text":{"field":"s"}}},
 {"data":{"values":[{"t":18.29,"z":0.8311,"s":"TIME [ps]"}]},"mark":{"type":"text","align":"left","baseline":"alphabetic","font":"Liberation Sans","fontSize":18.5,"color":"#222"},"encoding":{"text":{"field":"s"}}},
 {"data":{"values":[{"t":-11.3,"z":0.8976,"s":"T"},{"t":-11.3,"z":0.9564,"s":"/T"}]},"mark":{"type":"text","align":"left","baseline":"alphabetic","angle":270,"font":"Liberation Sans","fontSize":17.6,"color":"#222"},"encoding":{"text":{"field":"s"}}},
 {"data":{"values":[{"t":-10.18,"z":0.9192,"s":"VAR"},{"t":-10.18,"z":0.9937,"s":"OP"}]},"mark":{"type":"text","align":"left","baseline":"alphabetic","angle":270,"font":"Liberation Sans","fontSize":13,"color":"#222"},"encoding":{"text":{"field":"s"}}},
 {"data":{"values":[{"t":0,"z":1}]},"mark":{"type":"point","opacity":0},"encoding":{"x":{"field":"t","type":"quantitative","scale":{"domain":[-5,50],"nice":false,"zero":false},"axis":{"orient":"bottom","title":null,"labelPadding":8,"values":[-5,-2.5,0,2.5,5,7.5,10,12.5,15,17.5,20,22.5,25,27.5,30,32.5,35,37.5,40,42.5,45,47.5,50],"labelExpr":"datum.value%5===0?''+datum.value:''","tickSize":{"condition":{"test":"datum.value%5===0","value":-5},"value":-3}}}}},
 {"data":{"values":[{"t":0,"z":1}]},"mark":{"type":"point","opacity":0},"encoding":{"x":{"field":"t","type":"quantitative","scale":{"domain":[-5,50],"nice":false,"zero":false},"axis":{"orient":"top","title":null,"labels":false,"domain":false,"values":[-5,-2.5,0,2.5,5,7.5,10,12.5,15,17.5,20,22.5,25,27.5,30,32.5,35,37.5,40,42.5,45,47.5,50],"tickSize":{"condition":{"test":"datum.value%5===0","value":-5},"value":-3}}}}}
 ]}
],
"spacing":0,
"bounds":"flush"
}
